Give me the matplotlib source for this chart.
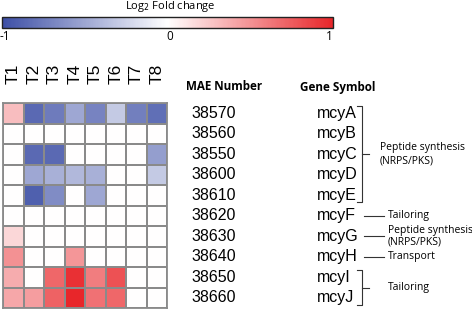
import numpy as np
import matplotlib
matplotlib.use("Agg")
import matplotlib.pyplot as plt
from matplotlib.colors import LinearSegmentedColormap
from matplotlib.cm import ScalarMappable
from matplotlib.colors import Normalize
from matplotlib.transforms import blended_transform_factory
from matplotlib.lines import Line2D

# data
timepoints = ["T1", "T2", "T3", "T4", "T5", "T6", "T7", "T8"]
mae_numbers = ["38570", "38560", "38550", "38600", "38610",
               "38620", "38630", "38640", "38650", "38660"]
genes = ["mcyA", "mcyB", "mcyC", "mcyD", "mcyE",
         "mcyF", "mcyG", "mcyH", "mcyI", "mcyJ"]
log2fc = np.array([
    [0.30, -0.85, -0.75, -0.50, -0.70, -0.30, -0.72, -0.82],
    [0.00, 0.00, 0.00, 0.00, 0.00, 0.00, 0.00, 0.00],
    [0.00, -0.85, -0.85, 0.00, 0.00, 0.00, 0.00, -0.55],
    [0.00, -0.50, -0.45, -0.40, -0.45, 0.00, 0.00, -0.30],
    [0.00, -0.90, -0.65, 0.00, -0.50, 0.00, 0.00, 0.00],
    [0.00, 0.00, 0.00, 0.00, 0.00, 0.00, 0.00, 0.00],
    [0.18, 0.00, 0.00, 0.00, 0.00, 0.00, 0.00, 0.00],
    [0.50, 0.00, 0.00, 0.48, 0.00, 0.00, 0.00, 0.00],
    [0.38, 0.00, 0.70, 0.95, 0.60, 0.80, 0.00, 0.00],
    [0.40, 0.45, 0.72, 1.00, 0.65, 0.70, 0.00, 0.00],
])
# function groups: (first row, last row, label)
groups = [(0, 4, "Peptide synthesis\n(NRPS/PKS)"),
          (5, 5, "Tailoring"),
          (6, 6, "Peptide synthesis\n(NRPS/PKS)"),
          (7, 7, "Transport"),
          (8, 9, "Tailoring")]

W, H = 472, 310
fig = plt.figure(figsize=(W / 100, H / 100), dpi=100)

def fx(x):
    return x / W

def fy(y):
    return 1 - y / H

cmap = LinearSegmentedColormap.from_list("bwr2", ["#3d4fa6", "#ffffff", "#e8262a"])
norm = Normalize(-1, 1)

# heatmap
ax = fig.add_axes([fx(3), fy(308), fx(164), 205 / H])
ax.pcolormesh(log2fc, cmap=cmap, norm=norm, edgecolors="#8a8a8a", linewidth=1.3)
ax.set_xlim(0, len(timepoints))
ax.set_ylim(len(genes), 0)
ax.set_xticks([])
ax.set_yticks([])
for s in ax.spines.values():
    s.set_color("#8a8a8a")
    s.set_linewidth(1.3)

tx = blended_transform_factory(ax.transData, fig.transFigure)
for i, t in enumerate(timepoints):
    ax.text(i + 0.5, fy(84), t, transform=tx, rotation=90, ha="center", va="bottom",
            fontsize=12.5, family="Liberation Sans")

# colorbar
cax = fig.add_axes([fx(2), fy(28), fx(331), 11 / H])
cb = fig.colorbar(ScalarMappable(norm=norm, cmap=cmap), cax=cax, orientation="horizontal")
cb.set_ticks([])
cb.outline.set_linewidth(1.0)
cb.outline.set_edgecolor("#222222")
fig.text(fx(5), fy(36), "-1", ha="center", va="center", fontsize=8.5, family="Open Sans")
fig.text(fx(170), fy(36), "0", ha="center", va="center", fontsize=8.5, family="Open Sans")
fig.text(fx(329), fy(36), "1", ha="center", va="center", fontsize=8.5, family="Open Sans")
fig.text(fx(170), fy(6), "Log$_2$ Fold change", ha="center", va="center", fontsize=8,
         family="Open Sans")

# headers and row labels
fig.text(fx(186), fy(87), "MAE Number", ha="left", va="center", fontsize=8.4,
         fontweight="bold", family="Open Sans")
fig.text(fx(300), fy(87), "Gene Symbol", ha="left", va="center", fontsize=8.4,
         fontweight="bold", family="Open Sans")
ry = blended_transform_factory(fig.transFigure, ax.transData)
for i, (m, g) in enumerate(zip(mae_numbers, genes)):
    ax.text(fx(191), i + 0.5, m, transform=ry, ha="left", va="center", fontsize=11.5,
            family="Liberation Sans")
    ax.text(fx(317), i + 0.5, g, transform=ry, ha="left", va="center", fontsize=11.5,
            family="Liberation Sans")

# group brackets and labels
for r0, r1, label in groups:
    if r1 > r0:
        y0, y1 = r0 + 0.15, r1 + 0.85
        ym = (y0 + y1) / 2
        xs = [fx(357), fx(362), fx(362), fx(357)]
        ax.add_line(Line2D(xs, [y0, y0, y1, y1], transform=ry, color="#333333",
                           lw=0.8, clip_on=False))
        ax.add_line(Line2D([fx(362), fx(369)], [ym, ym], transform=ry, color="#333333",
                           lw=0.8, clip_on=False))
        ax.text(fx(380) if r1 - r0 > 1 else fx(388), ym, label, transform=ry,
                ha="left", va="center", fontsize=7.5, family="Open Sans", linespacing=1.3)
    else:
        ym = r0 + 0.5
        ax.add_line(Line2D([fx(364), fx(384)], [ym, ym], transform=ry, color="#333333",
                           lw=0.8, clip_on=False))
        ax.text(fx(388), ym, label, transform=ry, ha="left", va="center", fontsize=7.5,
                family="Open Sans", linespacing=1.1)

fig.savefig("out.png", dpi=100)
